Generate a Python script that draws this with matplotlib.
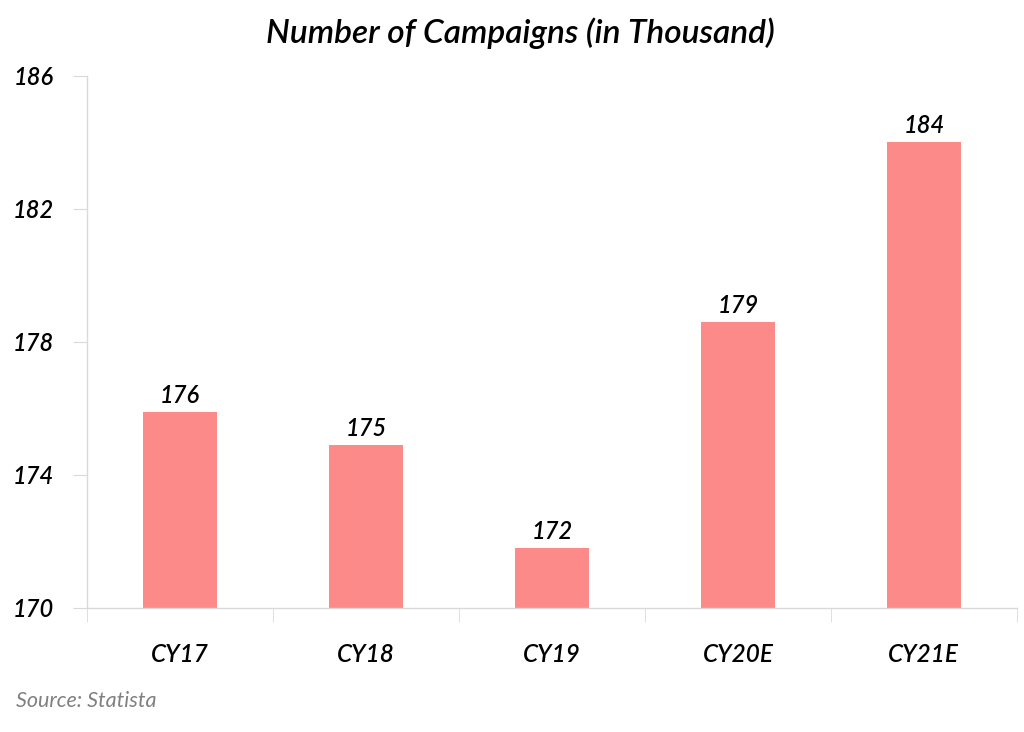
import matplotlib.pyplot as plt

categories = ['CY17', 'CY18', 'CY19', 'CY20E', 'CY21E']
values = [175.9, 174.9, 171.8, 178.6, 184.0]
labels = ['176', '175', '172', '179', '184']
yticks = [170, 174, 178, 182, 186]

plt.rcParams['font.family'] = ['Lato', 'DejaVu Sans']
plt.rcParams['font.style'] = 'italic'
plt.rcParams['font.weight'] = 'semibold'

fig = plt.figure(figsize=(10.24, 7.32), dpi=100)
ax = fig.add_axes([0.085, 0.1694, 0.908, 0.7268])

x = range(len(categories))
bars = ax.bar(x, values, width=0.4, color='#fc8a88', zorder=2)
for b, lab in zip(bars, labels):
    ax.text(b.get_x() + b.get_width() / 2, b.get_height() + 0.15, lab,
            ha='center', va='bottom', fontsize=17, color='black')

ax.set_ylim(170, 186)
ax.set_xlim(-0.5, len(categories) - 0.5)
ax.set_yticks(yticks)
ax.set_yticklabels([str(t) for t in yticks], fontsize=17)
ax.set_xticks(list(x))
ax.set_xticklabels(categories, fontsize=17.5)
ax.tick_params(axis='x', length=0, pad=25)
ax.tick_params(axis='y', length=10, color='#d9d9d9', pad=14)

# category boundary ticks on the x axis
ax.set_xticks([i - 0.5 for i in range(len(categories) + 1)], minor=True)
ax.tick_params(axis='x', which='minor', length=10, color='#d9d9d9')

for s in ['top', 'right']:
    ax.spines[s].set_visible(False)
for s in ['left', 'bottom']:
    ax.spines[s].set_color('#d9d9d9')
    ax.spines[s].set_linewidth(1)

fig.text(0.508, 0.955, 'Number of Campaigns (in Thousand)', ha='center', va='center',
         fontsize=24, color='black')
fig.text(0.016, 0.042, 'Source: Statista', ha='left', va='center', fontsize=15.5,
         color='#808080', fontweight='normal')

fig.savefig('out.png', dpi=100)
